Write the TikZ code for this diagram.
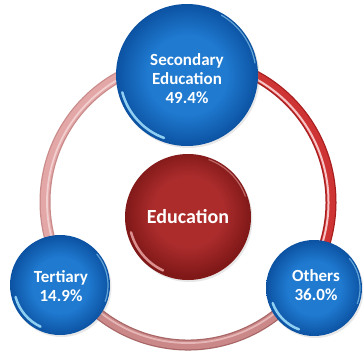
\documentclass[tikz,border=0pt]{standalone}
\usepackage{fontspec}
\setmainfont{Carlito}
\usetikzlibrary{shadows}
\definecolor{bluemid}{HTML}{1F7AD0}
\definecolor{blueedge}{HTML}{0C52A2}
\definecolor{bluehl}{HTML}{A6E4FF}
\definecolor{redmid}{HTML}{AC2C2C}
\definecolor{rededge}{HTML}{801818}
\definecolor{redhl}{HTML}{EBA4A4}
\definecolor{ringred}{HTML}{CF3434}
\definecolor{ringreddark}{HTML}{A81E1E}
\definecolor{ringredhl}{HTML}{F6C4C4}
\definecolor{ringpink}{HTML}{E3A7A7}
\definecolor{ringpinkdark}{HTML}{C98A8A}
\definecolor{ringpinkhl}{HTML}{F2CFCF}
\definecolor{ringmauve}{HTML}{CB8888}
\definecolor{ringmauvedark}{HTML}{A86666}
\definecolor{ringmauvehl}{HTML}{E6B6B6}
\pgfdeclareradialshading{bluesh}{\pgfpoint{0bp}{0bp}}{color(0bp)=(bluemid); color(14bp)=(bluemid); color(25bp)=(blueedge); color(50bp)=(blueedge)}
\pgfdeclareradialshading{redsh}{\pgfpoint{0bp}{3bp}}{color(0bp)=(redmid); color(14bp)=(redmid); color(25bp)=(rededge); color(50bp)=(rededge)}
\begin{document}
\begin{tikzpicture}[x=1pt,y=-1pt,
  bubble/.style={circle, inner sep=0pt, align=center, text=white,
    font=\bfseries\fontsize{17}{19}\selectfont, shading=bluesh,
    drop shadow={shadow xshift=1.5pt, shadow yshift=-2pt, opacity=0.18}},
  hub/.style={circle, inner sep=0pt, align=center, text=white,
    font=\bfseries\fontsize{20}{24}\selectfont, shading=redsh,
    drop shadow={shadow xshift=1.5pt, shadow yshift=-2pt, opacity=0.18}},
  bubbletext/.style={align=center, text=white, inner sep=0pt,
    font=\bfseries\fontsize{17}{19}\selectfont},
  shine/.style={line width=2.5pt, line cap=round, opacity=0.85},
  rim/.style={line width=1.2pt, line cap=round, opacity=0.55}
]
\useasboundingbox (0,0) rectangle (363,356);
\fill[white] (0,0) rectangle (363,356);
\coordinate (rc) at (188,202);
% ring: red (right), mauve (bottom), pink (left)
\draw[line width=11pt, ringreddark] (rc) ++(-40:143pt) arc[start angle=-40, end angle=100, radius=143pt];
\draw[line width=8.5pt, ringred] (rc) ++(-40:143pt) arc[start angle=-40, end angle=100, radius=143pt];
\draw[line width=2pt, ringredhl] (rc) ++(-40:140.5pt) arc[start angle=-40, end angle=100, radius=140.5pt];
\draw[line width=11pt, ringmauvedark] (rc) ++(205:143pt) arc[start angle=205, end angle=330, radius=143pt];
\draw[line width=8.5pt, ringmauve] (rc) ++(205:143pt) arc[start angle=205, end angle=330, radius=143pt];
\draw[line width=1.8pt, ringmauvehl] (rc) ++(205:141pt) arc[start angle=205, end angle=330, radius=141pt];
\draw[line width=11pt, ringpinkdark] (rc) ++(85:143pt) arc[start angle=85, end angle=220, radius=143pt];
\draw[line width=8.5pt, ringpink] (rc) ++(85:143pt) arc[start angle=85, end angle=220, radius=143pt];
\draw[line width=1.8pt, ringpinkhl] (rc) ++(85:141pt) arc[start angle=85, end angle=220, radius=141pt];
% circles
\node[bubble, minimum size=142pt] (sec) at (187,75) {};
\node[bubble, minimum size=100pt] (ter) at (60,285) {};
\node[bubble, minimum size=96pt] (oth) at (314,288) {};
\node[hub, minimum size=126pt] (hub) at (188,217) {Education};
% highlights
\draw[shine, bluehl] (sec.center) ++(195:67pt) arc[start angle=195, end angle=250, radius=67pt];
\draw[rim, bluehl] (sec.center) ++(10:69pt) arc[start angle=10, end angle=60, radius=69pt];
\draw[shine, bluehl] (ter.center) ++(195:46pt) arc[start angle=195, end angle=245, radius=46pt];
\draw[rim, bluehl] (ter.center) ++(-20:48pt) arc[start angle=-20, end angle=40, radius=48pt];
\draw[shine, bluehl] (oth.center) ++(200:44pt) arc[start angle=200, end angle=250, radius=44pt];
\draw[rim, bluehl] (oth.center) ++(-20:46pt) arc[start angle=-20, end angle=40, radius=46pt];
\draw[shine, redhl] (hub.center) ++(195:59pt) arc[start angle=195, end angle=245, radius=59pt];
\draw[rim, redhl] (hub.center) ++(20:61pt) arc[start angle=20, end angle=70, radius=61pt];
% texts
\node[bubbletext] (sectext) at (187,79) {Secondary\\Education\\49.4\%};
\node[bubbletext] (tertext) at (61,286) {Tertiary\\14.9\%};
\node[bubbletext] (othtext) at (316,285.5) {Others\\36.0\%};
\end{tikzpicture}
\end{document}
